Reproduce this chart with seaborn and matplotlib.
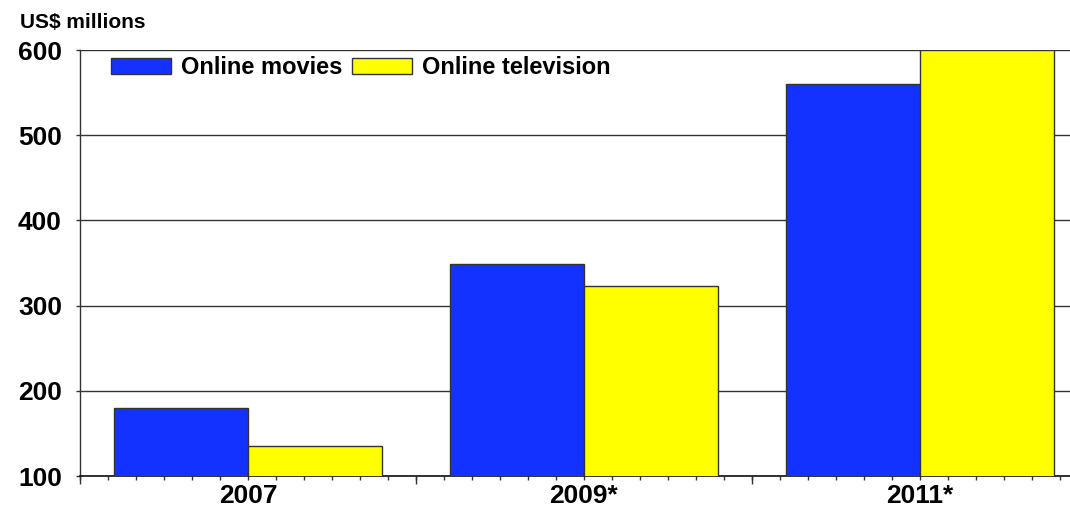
import matplotlib
matplotlib.use("Agg")
import matplotlib.pyplot as plt
import seaborn as sns
import pandas as pd
import numpy as np

years = ["2007", "2009*", "2011*"]
series = ["Online movies", "Online television"]
movies = [180, 349, 560]
television = [135, 323, 600]
yticks = [100, 200, 300, 400, 500, 600]
colors = ["#1432FF", "#FFFF00"]

sns.set_theme(style="white")
plt.rcParams["font.family"] = ["Liberation Sans", "DejaVu Sans"]
plt.rcParams["font.weight"] = "bold"
plt.rcParams["text.color"] = "black"
plt.rcParams["xtick.color"] = "black"
plt.rcParams["ytick.color"] = "black"

df = pd.DataFrame({
    "year": years * 2,
    "series": [series[0]] * 3 + [series[1]] * 3,
    "value": movies + television,
})

fig = plt.figure(figsize=(10.7, 5.14), dpi=100)
ax = fig.add_axes([80 / 1070, 38 / 514, 990 / 1070, 426 / 514])

sns.barplot(data=df, x="year", y="value", hue="series", palette=colors,
            width=0.8, edgecolor="#333333", linewidth=1.0, ax=ax,
            saturation=1, zorder=3)

ax.set_yticks(yticks)
ax.set_yticklabels([str(v) for v in yticks], fontsize=19, fontweight="bold",
                   color="black")
ax.yaxis.grid(True, color="#333333", linewidth=1.0, zorder=0)
ax.xaxis.grid(False)
ax.set_xlabel("")
ax.set_ylabel("")

for s in ["top", "right"]:
    ax.spines[s].set_visible(False)
ax.spines["left"].set_color("#333333")
ax.spines["left"].set_linewidth(1.0)
ax.spines["bottom"].set_color("#111111")
ax.spines["bottom"].set_linewidth(1.2)

ax.tick_params(axis="y", which="major", left=True, length=3, width=1,
               color="#333333", pad=10)
ax.set_xticks(range(len(years)))
ax.set_xticklabels(years, fontsize=19, fontweight="bold", color="black")
ax.tick_params(axis="x", which="major", bottom=True, length=3, width=1,
               color="#333333", pad=3)
minor = [i / 12 - 0.5 for i in range(0, 37)]
ax.set_xticks(minor, minor=True)
ax.tick_params(axis="x", which="minor", bottom=True, length=3, width=1,
               color="#333333")

sec = ax.secondary_xaxis("bottom")
sec.set_xticks([-0.5, 0.5, 1.5, 2.5])
sec.set_xticklabels(["", "", "", ""])
sec.tick_params(length=5.5, width=1, color="#333333")
sec.spines["bottom"].set_visible(False)

ax.set_ylim(100, 600)
ax.set_xlim(-0.5, -0.5 + 990 / 336)

handles, labels = ax.get_legend_handles_labels()
ax.legend(handles, labels, loc="upper left", bbox_to_anchor=(0.031, 0.985),
          ncol=2, frameon=False, prop={"weight": "bold", "size": 17},
          handlelength=2.54, handleheight=0.68, handletextpad=0.42,
          columnspacing=0.42, borderaxespad=0, borderpad=0)

fig.text(20 / 1070, 1 - 22 / 514, "US$ millions", fontsize=15,
         fontweight="bold", va="center", ha="left", color="black")

fig.savefig("out.png", dpi=100)
